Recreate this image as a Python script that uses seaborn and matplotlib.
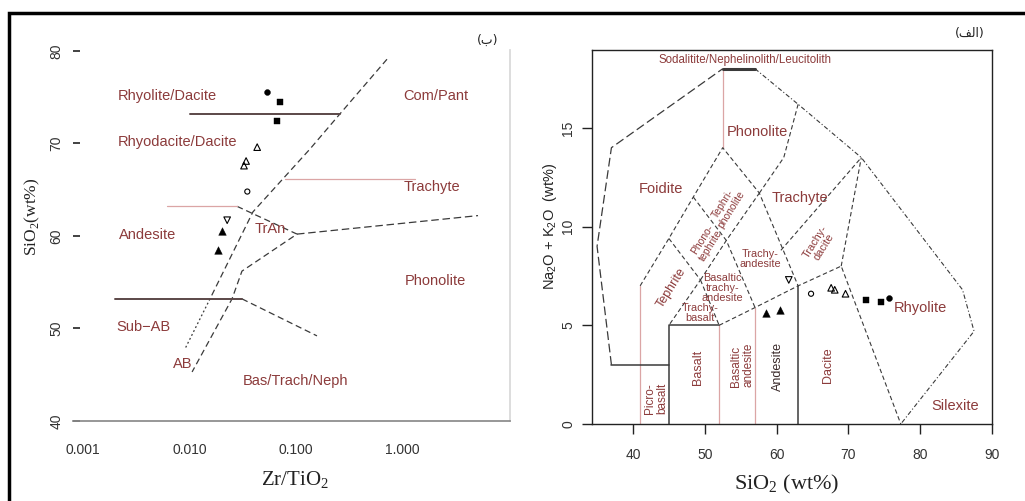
import matplotlib
matplotlib.use("Agg")
import matplotlib.pyplot as plt
from matplotlib.patches import Rectangle
import pandas as pd
import seaborn as sns

# ten samples, shown on both diagrams
sio2 = [75.6, 74.5, 72.4, 69.6, 67.6, 68.1, 64.8, 61.7, 60.5, 58.5]
zr_tio2 = [0.0536, 0.0708, 0.0664, 0.0432, 0.0325, 0.0340, 0.0349, 0.0226, 0.0203, 0.0187]
na2o_k2o = [6.4, 6.2, 6.3, 6.6, 6.9, 6.8, 6.6, 7.3, 5.8, 5.6]
sample_marker = ["o", "s", "s", "^", "^", "^", "o", "v", "^", "^"]
sample_filled = [True, True, True, False, False, False, False, False, True, True]

# Winchester & Floyd boundaries (Zr/TiO2, SiO2)
wf_dashed = ([0.711, 0.258, 0.135, 0.0394, 0.0156], [79.1, 73.2, 69.4, 62.6, 53.2])
wf_dotted = ([0.0156, 0.0091], [53.2, 47.8])
wf_tran = ([0.028, 0.102, 0.0311, 0.0251, 0.0106], [63.2, 60.2, 56.2, 53.2, 45.3])
wf_phon = ([0.102, 5.07], [60.2, 62.2])
wf_bas = ([0.0311, 0.157], [53.2, 49.2])
wf_solid = [([0.0102, 0.258], [73.2, 73.2]), ([0.00201, 0.0311], [53.2, 53.2])]
wf_pink = [([0.0062, 0.028], [63.2, 63.2]), ([0.078, 1.30], [66.2, 66.2])]
wf_labels = [("Rhyolite/Dacite", 0.0062, 75.1), ("Com/Pant", 2.05, 75.1),
             ("Rhyodacite/Dacite", 0.0077, 70.2), ("Trachyte", 1.88, 65.3),
             ("Andesite", 0.0041, 60.1), ("TrAn", 0.057, 60.8),
             ("Phonolite", 2.01, 55.1), ("Sub\u2212AB", 0.0037, 50.2),
             ("AB", 0.0087, 46.2), ("Bas/Trach/Neph", 0.098, 44.3)]

# TAS boundaries (SiO2, Na2O+K2O)
tas_solid = [([37, 45], [3, 3]), ([45, 45, 52], [0, 5, 5]), ([63, 63], [0, 7])]
tas_top = ([52.5, 57], [18, 18])
tas_pink = [([41, 41], [0, 7]), ([52, 52], [0, 5]), ([57, 57], [0, 5.9]), ([52.5, 52.5], [14, 18])]
tas_outer_left = ([37, 35, 37, 52.5], [3, 9, 14, 18])
tas_outer_right = ([57, 63, 71.8, 85.9, 87.5, 77.3], [18, 16.2, 13.5, 6.8, 4.7, 0])
tas_dashed = [
    ([41, 45, 48.4, 52.5, 57.6, 63], [7, 9.4, 11.5, 14, 11.7, 7]),
    ([57.6, 61, 63], [11.7, 13.5, 16.2]),
    ([45, 49.4, 45], [9.4, 7.3, 5]),
    ([48.4, 53, 57], [11.5, 9.3, 5.9]),
    ([49.4, 53, 57.6], [7.3, 9.3, 11.7]),
    ([49.4, 52], [7.3, 5]),
    ([52, 57, 63, 69, 77.3], [5, 5.9, 7, 8, 0]),
    ([69, 71.8], [8, 13.5]),
    ([60.6, 71.8], [8.8, 13.5]),
]
tas_labels = [("Sodalitite/Nephelinolith/Leucitolith", 55.6, 18.45, 0, 8.3),
              ("Phonolite", 57.3, 14.8, 0, 10.5), ("Foidite", 43.9, 11.9, 0, 10.5),
              ("Trachyte", 63.3, 11.45, 0, 10.5), ("Tephri-\nphonolite", 53.1, 11.0, 58, 7.5),
              ("Phono-\ntephrite", 50.3, 9.2, 58, 7.5), ("Tephrite", 45.4, 6.9, 58, 9),
              ("Trachy-\nandesite", 57.7, 8.35, 0, 7.8),
              ("Basaltic\ntrachy-\nandesite", 52.5, 6.9, 0, 7.8),
              ("Trachy-\nbasalt", 49.3, 5.6, 0, 7.8), ("Picro-\nbasalt", 43.2, 1.3, 90, 8.5),
              ("Basalt", 49.1, 2.85, 90, 9), ("Basaltic\nandesite", 55.2, 3.0, 90, 8.5),
              ("Andesite", 60.2, 2.9, 90, 9), ("Dacite", 67.2, 3.0, 90, 9),
              ("Trachy-\ndacite", 66.0, 9.1, 58, 7.8), ("Rhyolite", 80.0, 5.9, 0, 10.5),
              ("Silexite", 84.8, 0.9, 0, 10.5)]

sns.set_theme(style="white")
plt.rcParams["font.family"] = ["Liberation Sans", "DejaVu Sans"]
plt.rcParams["mathtext.fontset"] = "custom"
plt.rcParams["mathtext.rm"] = "Liberation Serif"
plt.rcParams["mathtext.sf"] = "Liberation Sans"

LABEL_COLOR = "#8c3b3b"
PINK = "#dba5a5"
LINE = "#3a3a3a"

samples = pd.DataFrame({
    "sio2": sio2, "zr_tio2": zr_tio2, "alk": na2o_k2o,
    "marker": sample_marker, "filled": sample_filled,
})
marker_size = {"o": 18, "s": 24, "^": 30, "v": 30}


def draw_samples(ax, xcol, ycol):
    for (m, f), grp in samples.groupby(["marker", "filled"]):
        s = marker_size[m]
        if f:
            sns.scatterplot(data=grp, x=xcol, y=ycol, marker=m, s=s, color="black",
                            edgecolor="black", linewidth=0.3, ax=ax, zorder=5, legend=False)
        else:
            sns.scatterplot(data=grp, x=xcol, y=ycol, marker=m, s=s * 0.75, facecolor="none",
                            edgecolor="black", linewidth=0.8, ax=ax, zorder=5, legend=False)


fig = plt.figure(figsize=(10.25, 5.01), dpi=100)
ax1 = fig.add_axes([0.0712, 0.1597, 0.4263, 0.7405])
ax2 = fig.add_axes([0.5776, 0.1537, 0.3902, 0.7465])

# ---- left: SiO2 vs Zr/TiO2
ax1.set_xscale("log")
ax1.set_xlim(0.000811, 10.1)
ax1.set_ylim(40, 80.1)
ax1.plot(*wf_dashed, color=LINE, lw=0.9, dashes=(5, 3))
ax1.plot(*wf_dotted, color=LINE, lw=0.9, dashes=(1.5, 2))
ax1.plot(*wf_tran, color=LINE, lw=0.9, dashes=(5, 3))
ax1.plot(*wf_phon, color=LINE, lw=0.9, dashes=(6, 3))
ax1.plot(*wf_bas, color=LINE, lw=0.9, dashes=(5, 3))
for xs, ys in wf_solid:
    ax1.plot(xs, ys, color="#5b4848", lw=1.4)
for xs, ys in wf_pink:
    ax1.plot(xs, ys, color=PINK, lw=0.9)
for text, x, y in wf_labels:
    ax1.text(x, y, text, color=LABEL_COLOR, fontsize=10.5, ha="center", va="center")
draw_samples(ax1, "zr_tio2", "sio2")

ax1.set_xticks([0.001, 0.01, 0.1, 1.0])
ax1.set_xticklabels(["0.001", "0.010", "0.100", "1.000"])
ax1.minorticks_off()
ax1.set_yticks([40, 50, 60, 70, 80])
ax1.tick_params(axis="x", length=0, pad=16, labelsize=10, labelcolor="#333333")
ax1.tick_params(axis="y", direction="in", length=5, width=1.2, color="#222222", pad=7,
                labelsize=10, labelcolor="#333333", labelrotation=90, left=True)
for lab in ax1.get_yticklabels():
    lab.set_verticalalignment("center")
for side in ["top", "left"]:
    ax1.spines[side].set_visible(False)
ax1.spines["bottom"].set_color("#8a8a8a")
ax1.spines["right"].set_color("#d8d8d8")
ax1.set_xlabel(r"Zr/TiO$_\mathrm{2}$", family=["Liberation Serif"], fontsize=15,
               color="#222222", va="center")
ax1.xaxis.set_label_coords(0.508, -0.159)
ax1.set_ylabel(r"SiO$_\mathrm{2}$(wt%)", family=["Liberation Serif"], fontsize=12.5,
               color="#222222", va="center")
ax1.yaxis.set_label_coords(-0.092, 0.55)

# ---- right: TAS
ax2.set_xlim(34.3, 90)
ax2.set_ylim(0, 18.95)
for xs, ys in tas_pink:
    ax2.plot(xs, ys, color=PINK, lw=0.9)
for xs, ys in tas_solid:
    ax2.plot(xs, ys, color=LINE, lw=1.1)
ax2.plot(*tas_top, color=LINE, lw=2.2)
ax2.plot(*tas_outer_left, color=LINE, lw=0.9, dashes=(7, 3))
ax2.plot(*tas_outer_right, color=LINE, lw=0.8, dashes=(4, 2, 1, 2))
for xs, ys in tas_dashed:
    ax2.plot(xs, ys, color=LINE, lw=0.8, dashes=(4, 2.5))
for text, x, y, rot, size in tas_labels:
    col = "#3a2a2a" if text == "Andesite" else LABEL_COLOR
    ax2.text(x, y, text, color=col, fontsize=size, ha="center", va="center",
             rotation=rot, multialignment="left" if rot == 90 else "center",
             linespacing=1.0)
draw_samples(ax2, "sio2", "alk")

ax2.set_xticks([40, 50, 60, 70, 80, 90])
ax2.set_yticks([0, 5, 10, 15])
ax2.tick_params(axis="both", direction="out", length=7, width=1.0, color="#222222",
                labelsize=10, labelcolor="#333333", bottom=True, left=True)
ax2.tick_params(axis="x", pad=10)
ax2.tick_params(axis="y", pad=5, labelrotation=90)
for lab in ax2.get_yticklabels():
    lab.set_verticalalignment("center")
for sp in ax2.spines.values():
    sp.set_color("#222222")
    sp.set_linewidth(1.0)
ax2.set_xlabel(r"SiO$_\mathrm{2}$ (wt%)", family=["Liberation Serif"], fontsize=16,
               color="#222222", va="center")
ax2.xaxis.set_label_coords(0.4875, -0.163)
ax2.set_ylabel(r"Na$_\mathsf{2}$O + K$_\mathsf{2}$O  (wt%)", fontsize=10.5,
               color="#222222", va="center")
ax2.yaxis.set_label_coords(-0.105, 0.527)

# panel tags (Persian, shaped by hand: visual order)
fig.text(488 / 1025, 1 - 40 / 501, "(\ufe8f)", family=["DejaVu Sans"], fontsize=9,
         ha="center", va="center", color="#222222")
fig.text(970 / 1025, 1 - 33 / 501, "(\ufed2\ufedf\ufe8d)", family=["DejaVu Sans"], fontsize=9,
         ha="center", va="center", color="#222222")

# outer frame of the figure
fig.patches.append(Rectangle((8.5 / 1025, -0.05), 1.2, 1 - 13 / 501 + 0.05,
                             transform=fig.transFigure, fill=False, lw=2.5, ec="black"))

fig.savefig("out.png", dpi=100)
